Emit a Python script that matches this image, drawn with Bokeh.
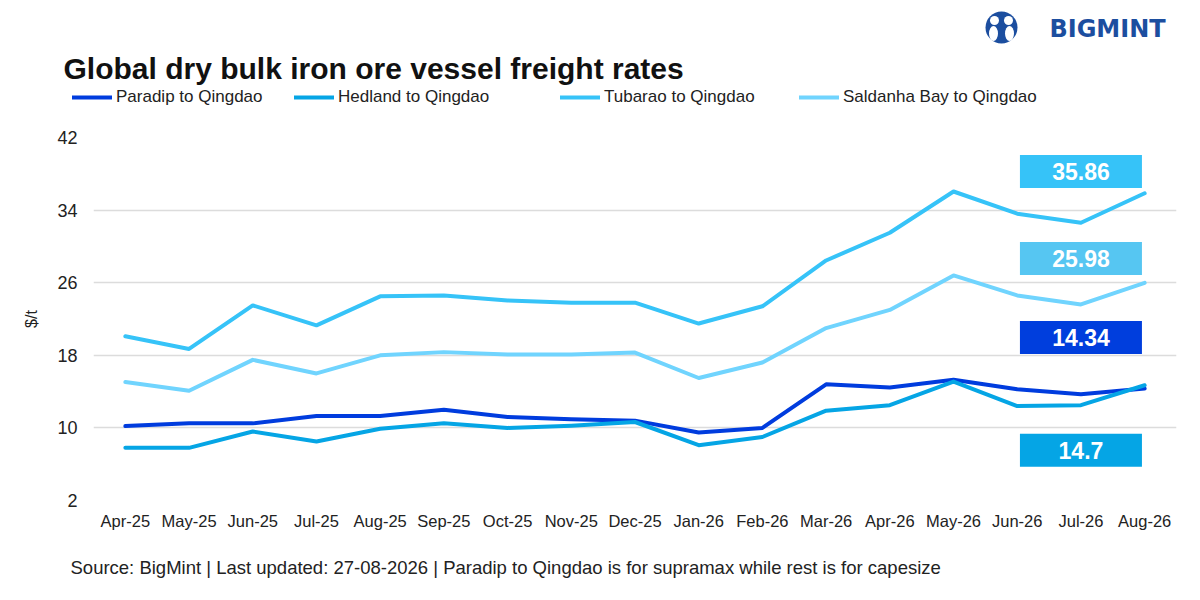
import numpy as np
from bokeh.plotting import figure
from bokeh.layouts import column
from bokeh.models import (FactorRange, Range1d, FixedTicker, Legend,
                          LegendItem, ColumnDataSource)
from bokeh.embed import file_html
from bokeh.resources import INLINE
from bokeh.core.properties import value

# ---------------- data ----------------
months = ["Apr-25", "May-25", "Jun-25", "Jul-25", "Aug-25", "Sep-25", "Oct-25",
          "Nov-25", "Dec-25", "Jan-26", "Feb-26", "Mar-26", "Apr-26", "May-26",
          "Jun-26", "Jul-26", "Aug-26"]
paradip = [10.2, 10.5, 10.5, 11.3, 11.3, 12.0, 11.2, 10.95, 10.8, 9.5, 10.0,
           14.8, 14.45, 15.3, 14.25, 13.7, 14.34]
hedland = [7.8, 7.8, 9.6, 8.5, 9.9, 10.5, 10.0, 10.25, 10.65, 8.1, 9.0,
           11.9, 12.5, 15.1, 12.4, 12.5, 14.7]
tubarao = [20.1, 18.7, 23.5, 21.3, 24.5, 24.6, 24.05, 23.8, 23.8, 21.5, 23.4,
           28.45, 31.5, 36.05, 33.6, 32.6, 35.86]
saldanha = [15.05, 14.1, 17.5, 16.0, 18.0, 18.35, 18.1, 18.1, 18.3, 15.5, 17.2,
            21.0, 23.0, 26.8, 24.6, 23.6, 25.98]
series_names = ["Paradip to Qingdao", "Hedland to Qingdao",
                "Tubarao to Qingdao", "Saldanha Bay to Qingdao"]
y_ticks = [2, 10, 18, 26, 34, 42]

title_text = "Global dry bulk iron ore vessel freight rates"
source_text = ("Source: BigMint | Last updated: 27-08-2026 | Paradip to Qingdao "
               "is for supramax while rest is for capesize")
brand_text = "BIGMINT"

# ---------------- styles ----------------
line_colors = ["#003CDE", "#05A5E5", "#36C3F8", "#70D4FE"]
box_colors = ["#003EDD", "#05A5E5", "#36C3F8", "#56C6F2"]
logo_color = "#1C4E9F"
FONT = "Liberation Sans"
W = 1184
H_TOP, H_MAIN, H_BOT = 120, 414, 50


def blank_panel(h):
    f = figure(width=W, height=h, x_range=Range1d(0, W), y_range=Range1d(h, 0),
               output_backend="svg", toolbar_location=None,
               x_axis_type=None, y_axis_type=None,
               min_border_left=0, min_border_right=0, min_border_top=0,
               min_border_bottom=0)
    f.outline_line_color = None
    f.grid.visible = False
    f.background_fill_color = "white"
    f.border_fill_color = "white"
    f.frame_align = False
    return f


# ---------------- top panel: title, legend, logo ----------------
top = blank_panel(H_TOP)
top.text(x=[63], y=[68], text=[title_text], text_font=value(FONT),
         text_font_style="bold", text_font_size="30px", text_color="#111111",
         text_baseline="alphabetic", text_align="left")

legend_x = [72, 294, 560, 799]
nan_pair = np.array([np.nan, np.nan])
for name, col, lx in zip(series_names, line_colors, legend_x):
    r = top.line(x=nan_pair, y=nan_pair, line_color=col, line_width=4,
                 line_cap="round")
    lg = Legend(items=[LegendItem(label=name, renderers=[r])],
                location=(lx, 13), orientation="horizontal",
                glyph_width=40, glyph_height=20, label_standoff=4,
                padding=0, margin=0, spacing=0,
                border_line_color=None, background_fill_alpha=0,
                label_text_font=FONT, label_text_font_size="17px",
                label_text_color="#222222", label_height=20)
    top.add_layout(lg, "center")

# logo mark
top.circle(x=[1001], y=[27], radius=16, fill_color=logo_color, line_color=None)
top.ellipse(x=[993, 1009], y=[33, 33], width=9, height=15,
            fill_color="white", line_color=None)
top.circle(x=[994, 1008], y=[20, 20], radius=4.5, fill_color="white",
           line_color=None)
top.text(x=[1107], y=[28], text=[brand_text], text_font=value("DejaVu Sans"),
         text_font_style="bold", text_font_size="24px", text_color=logo_color,
         text_align="center", text_baseline="middle")

# ---------------- main chart ----------------
p = figure(width=W, height=H_MAIN, x_range=FactorRange(*months),
           y_range=Range1d(2, 42), output_backend="svg", toolbar_location=None,
           min_border_left=93, min_border_right=8, min_border_top=17,
           min_border_bottom=34)
p.outline_line_color = None
p.background_fill_color = "white"
p.border_fill_color = "white"
p.frame_align = False

p.xgrid.grid_line_color = None
p.ygrid.grid_line_color = "#DCDCDC"
p.ygrid.grid_line_width = 1.5

p.yaxis.ticker = FixedTicker(ticks=y_ticks)
for ax in (p.xaxis[0], p.yaxis[0]):
    ax.axis_line_color = None
    ax.major_tick_line_color = None
    ax.minor_tick_line_color = None
    ax.major_tick_out = 0
    ax.major_tick_in = 0
    ax.major_label_text_font = FONT
    ax.major_label_text_color = "#222222"
p.xaxis.major_label_text_font_size = "16.5px"
p.xaxis.major_label_standoff = 11
p.yaxis.major_label_text_font_size = "18px"
p.yaxis.major_label_standoff = 16
p.yaxis.axis_label = "$/t"
p.yaxis.axis_label_text_font = FONT
p.yaxis.axis_label_text_font_style = "normal"
p.yaxis.axis_label_text_font_size = "16px"
p.yaxis.axis_label_text_color = "#222222"
p.yaxis.axis_label_standoff = 14

all_series = [paradip, hedland, tubarao, saldanha]
renderers = []
for vals, col in zip(all_series, line_colors):
    src = ColumnDataSource(dict(x=months, y=vals))
    r = p.line("x", "y", source=src, line_color=col, line_width=4,
               line_cap="round", line_join="round")
    renderers.append(r)
p.renderers = [renderers[3], renderers[2], renderers[0], renderers[1]]

# value boxes with the latest values
last_vals = [s[-1] for s in all_series]
box_y = [19.97, 7.53, 38.26, 28.67]
box_src = ColumnDataSource(dict(x=[months[-2]] * 4, y=box_y,
                                txt=[f"{v:g}" for v in last_vals],
                                col=box_colors))
p.rect("x", "y", width=122, height=33, width_units="screen", height_units="screen",
       source=box_src, fill_color="col", line_color=None)
p.text("x", "y", text="txt", source=box_src, text_color="white",
       text_font=value(FONT), text_font_style="bold", text_font_size="23px",
       text_align="center", text_baseline="middle")

# ---------------- bottom panel: source ----------------
bot = blank_panel(H_BOT)
bot.text(x=[70], y=[33], text=[source_text], text_font=value(FONT),
         text_font_size="18.5px", text_color="#222222", text_baseline="middle",
         text_align="left")

layout = column(top, p, bot, spacing=0)
open("out.html", "w").write(file_html(layout, INLINE))
